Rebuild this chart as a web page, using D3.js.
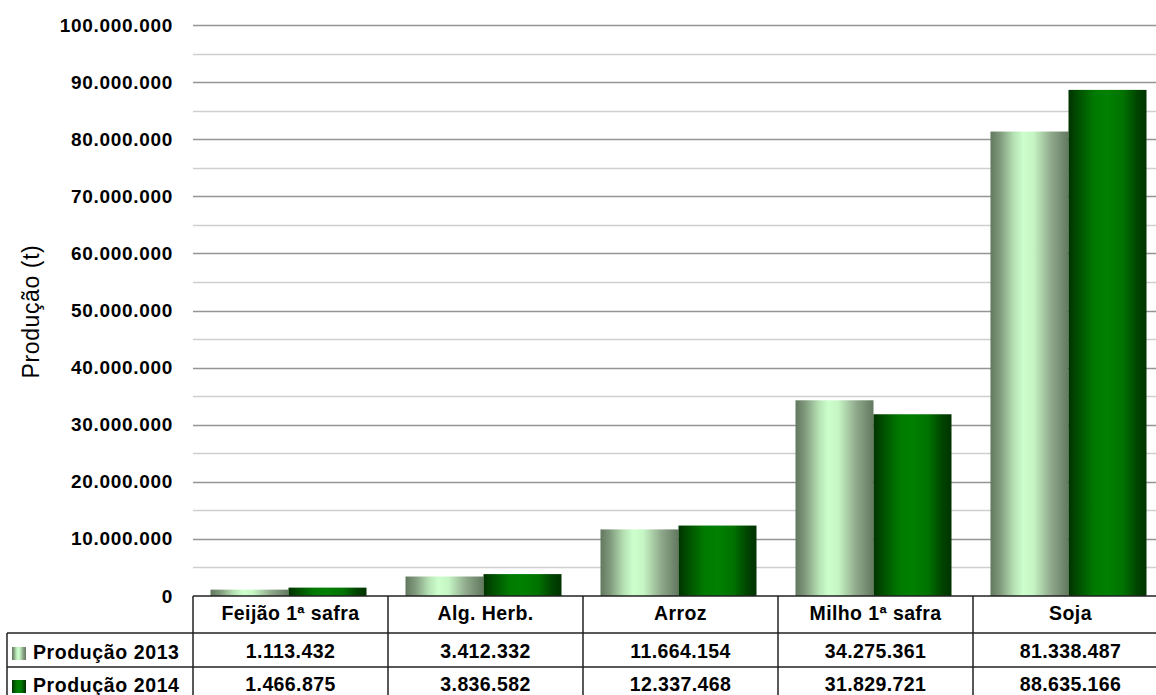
<!DOCTYPE html>
<html>
<head>
<meta charset="utf-8">
<script src="https://cdn.jsdelivr.net/npm/d3@7"></script>
<style>
  body { margin: 0; background: #fff; }
  svg { display: block; font-family: "Liberation Sans", Arial, sans-serif; }
</style>
</head>
<body>
<svg id="chart" width="1156" height="695"></svg>
<script>
const categories = ["Feijão 1ª safra", "Alg. Herb.", "Arroz", "Milho 1ª safra", "Soja"];
const seriesNames = ["Produção 2013", "Produção 2014"];
const prod2013 = [1113432, 3412332, 11664154, 34275361, 81338487];
const prod2014 = [1466875, 3836582, 12337468, 31829721, 88635166];
const yTicks = [0, 10000000, 20000000, 30000000, 40000000, 50000000, 60000000, 70000000, 80000000, 90000000, 100000000];

const fmt = v => d3.format(",")(v).replace(/,/g, ".");

const svg = d3.select("#chart");
const plotLeft = 193, plotTop = 25, plotBottom = 596;
const catW = 195;

const x = d3.scaleBand().domain(categories).range([plotLeft, plotLeft + catW * categories.length]);
const x1 = d3.scaleBand().domain(seriesNames).range([0, x.bandwidth()]).paddingOuter(0.25);
const y = d3.scaleLinear().domain([0, 100000000]).range([plotBottom, plotTop]);

// gradients
const defs = svg.append("defs");
const g13 = defs.append("linearGradient").attr("id", "g2013");
[[0, "#62785f"], [0.12, "#7f987b"], [0.3, "#b6e2b4"], [0.42, "#ccffcc"], [0.55, "#c6f5c4"], [0.78, "#8fa88b"], [1, "#62785f"]]
  .forEach(s => g13.append("stop").attr("offset", s[0]).attr("stop-color", s[1]));
const g14 = defs.append("linearGradient").attr("id", "g2014");
[[0, "#003300"], [0.15, "#005500"], [0.33, "#007a00"], [0.5, "#008000"], [0.7, "#007300"], [0.88, "#004400"], [1, "#003300"]]
  .forEach(s => g14.append("stop").attr("offset", s[0]).attr("stop-color", s[1]));
const fills = { "Produção 2013": "url(#g2013)", "Produção 2014": "url(#g2014)" };

// gridlines: minor every 5M, major every 10M
const minor = d3.range(5000000, 100000000, 10000000);
svg.append("g").selectAll("line").data(minor).join("line")
  .attr("x1", plotLeft).attr("x2", 1156)
  .attr("y1", d => Math.round(y(d)) + 0.5).attr("y2", d => Math.round(y(d)) + 0.5)
  .attr("stroke", "#cfcfcf").attr("stroke-width", 1.5);
svg.append("g").selectAll("line").data(yTicks.slice(1)).join("line")
  .attr("x1", plotLeft).attr("x2", 1156)
  .attr("y1", d => Math.round(y(d)) + 0.5).attr("y2", d => Math.round(y(d)) + 0.5)
  .attr("stroke", "#959595").attr("stroke-width", 1.5);

// y axis labels
const yAxis = svg.append("g")
  .attr("transform", "translate(" + (plotLeft + 8) + ",0)")
  .call(d3.axisLeft(y).tickValues(yTicks).tickFormat(fmt).tickSize(0).tickPadding(28));
yAxis.select(".domain").remove();
yAxis.selectAll("text")
  .attr("font-family", "Liberation Sans, Arial, sans-serif")
  .attr("font-size", 19).attr("font-weight", "bold").attr("fill", "#000")
  .attr("letter-spacing", 0.7);

svg.append("text")
  .attr("transform", "translate(39," + ((plotTop + plotBottom) / 2 + 1) + ") rotate(-90)")
  .attr("text-anchor", "middle")
  .attr("font-size", 23).attr("letter-spacing", 0.6)
  .text("Produção (t)");

// bars
const rows = categories.map((c, i) => ({ cat: c, vals: [prod2013[i], prod2014[i]] }));
svg.append("g").selectAll("g").data(rows).join("g")
  .attr("transform", d => "translate(" + (x(d.cat) - 2) + ",0)")
  .selectAll("rect")
  .data(d => d.vals.map((v, j) => ({ s: seriesNames[j], v: v })))
  .join("rect")
  .attr("x", d => x1(d.s))
  .attr("width", x1.bandwidth())
  .attr("y", d => y(d.v))
  .attr("height", d => plotBottom - y(d.v))
  .attr("fill", d => fills[d.s]);

// data table
const tbl = svg.append("g").attr("stroke", "#222").attr("stroke-width", 1.5);
const rowY = [plotBottom, 633, 667, 701];
const plotRight = plotLeft + catW * categories.length;
tbl.append("line").attr("x1", plotLeft).attr("x2", plotRight).attr("y1", rowY[0]).attr("y2", rowY[0]);
[rowY[1], rowY[2]].forEach(yy => tbl.append("line").attr("x1", 7).attr("x2", plotRight).attr("y1", yy).attr("y2", yy));
tbl.append("line").attr("x1", 7).attr("x2", 7).attr("y1", rowY[1]).attr("y2", 700);
tbl.selectAll(".v").data(d3.range(categories.length + 1)).join("line")
  .attr("x1", i => plotLeft + i * catW).attr("x2", i => plotLeft + i * catW)
  .attr("y1", rowY[0]).attr("y2", 700);

const txt = svg.append("g").attr("font-size", 19.5).attr("font-weight", "bold")
  .attr("text-anchor", "middle").attr("letter-spacing", 0.4);
txt.selectAll(".h").data(categories).join("text")
  .attr("x", d => x(d) + x.bandwidth() / 2).attr("y", 620).text(d => d);
txt.selectAll(".r1").data(prod2013).join("text")
  .attr("x", (d, i) => x(categories[i]) + x.bandwidth() / 2).attr("y", 658).text(fmt);
txt.selectAll(".r2").data(prod2014).join("text")
  .attr("x", (d, i) => x(categories[i]) + x.bandwidth() / 2).attr("y", 691).text(fmt);

// legend keys in table
const leg = svg.append("g");
seriesNames.forEach((s, i) => {
  const yy = i === 0 ? 647 : 680;
  leg.append("rect").attr("x", 12).attr("y", yy).attr("width", 14).attr("height", 13).attr("fill", fills[s]);
  leg.append("text").attr("x", 33).attr("y", yy + 12)
    .attr("font-size", 19.5).attr("font-weight", "bold").attr("letter-spacing", 0.6).text(s);
});
</script>
</body>
</html>
